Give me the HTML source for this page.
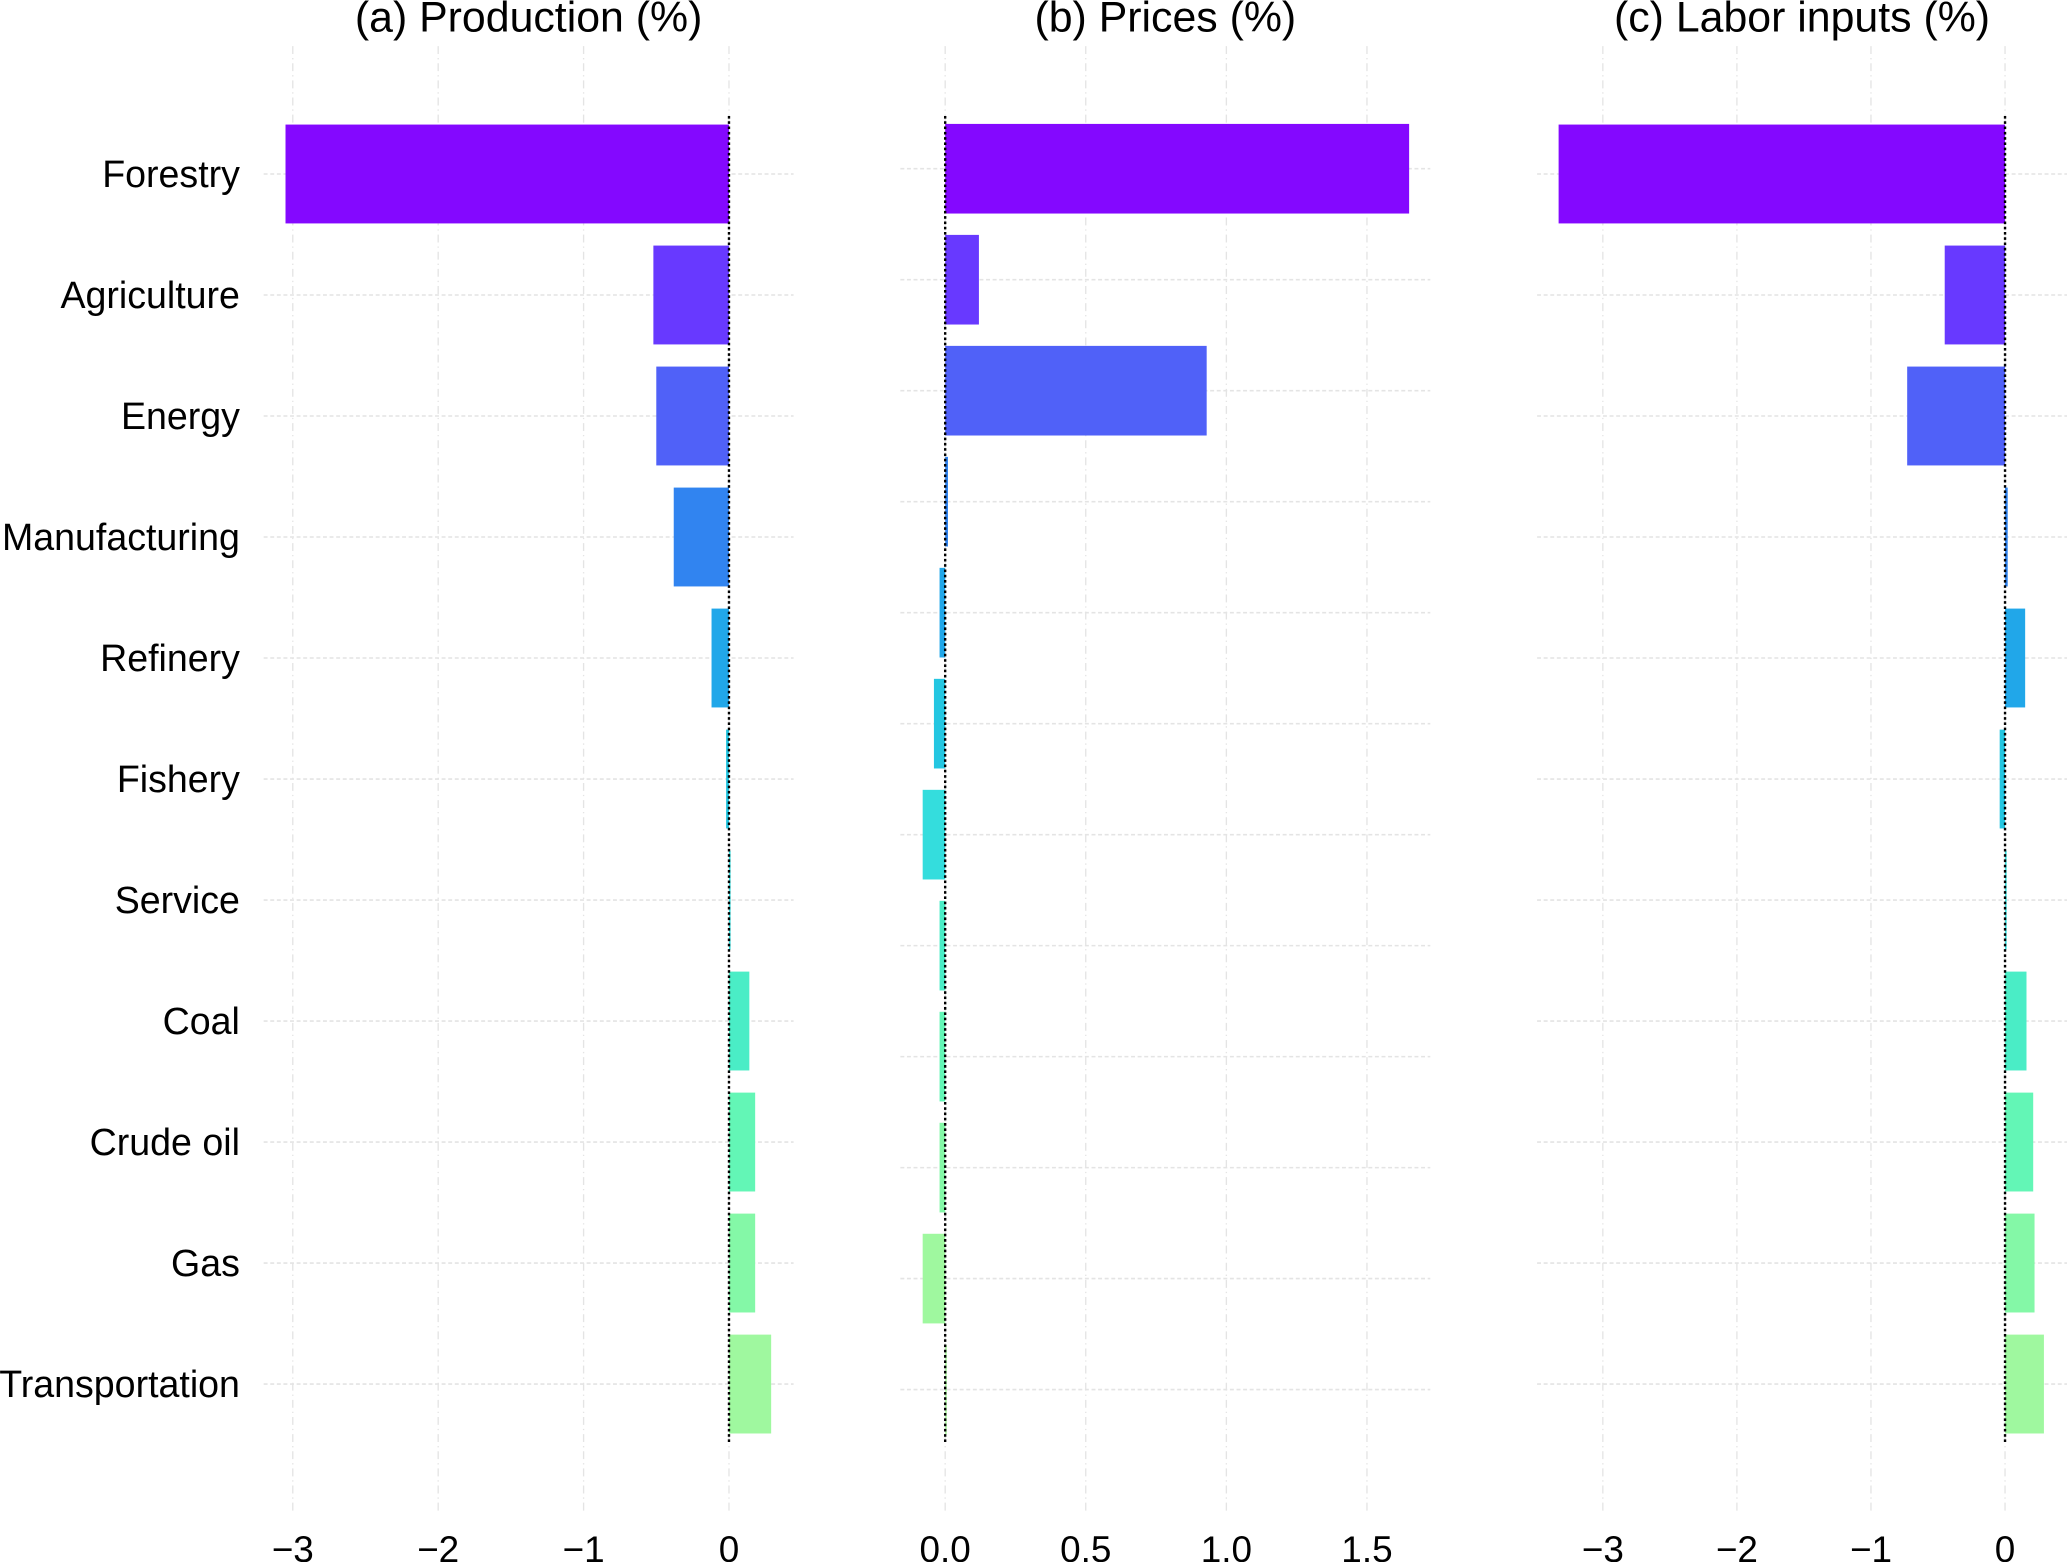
<!DOCTYPE html>
<html><head><meta charset="utf-8"><style>
html,body{margin:0;padding:0;background:#fff}
svg{display:block}
text{font-family:"Liberation Sans",sans-serif;fill:#000}
</style></head><body>
<svg id="chart" width="2067" height="1562" viewBox="0 0 1568 1185" preserveAspectRatio="none" xmlns="http://www.w3.org/2000/svg"></svg>
<script>
const categories = ["Forestry","Agriculture","Energy","Manufacturing","Refinery","Fishery","Service","Coal","Crude oil","Gas","Transportation"];
const productionValues = [-3.05,-0.52,-0.50,-0.38,-0.12,-0.02,0.01,0.14,0.18,0.18,0.29];
const pricesValues = [1.65,0.12,0.93,0.01,-0.02,-0.04,-0.08,-0.02,-0.02,-0.02,-0.08,0.003];
const laborValues = [-3.33,-0.45,-0.73,0.02,0.15,-0.04,0.005,0.16,0.21,0.22,0.29];
const ticksA = [-3,-2,-1,0];
const tickLabelsA = ["\u22123","\u22122","\u22121","0"];
const ticksB = [0,0.5,1.0,1.5];
const tickLabelsB = ["0.0","0.5","1.0","1.5"];
const ticksC = [-3,-2,-1,0];
const tickLabelsC = ["\u22123","\u22122","\u22121","0"];
const colors = ["#8000ff","#6333ff","#4a5cf8","#2a80f0","#1aa4e8","#1dc4e0","#2ddcdc","#44ecc4","#5ef6b4","#80f8a4","#9cf89c","#a6f59a"];

const svg = document.getElementById('chart');
const NS = "http://www.w3.org/2000/svg";
function mk(tag, attrs, parent){const e=document.createElementNS(NS,tag);for(const k in attrs)e.setAttribute(k,attrs[k]);(parent||svg).appendChild(e);return e;}

function panel(cfg){
  const g = mk('g',{});
  
  
  const x = v => cfg.zero + v*cfg.scale;
  const n = cfg.values.length;
  const y = i => cfg.y0 + i*cfg.step;
  cfg.ticks.forEach((t,i)=>{
    const l = mk('line',{x1:x(t),x2:x(t),y1:35,y2:1147,stroke:"#e4e4e4","stroke-width":1,"stroke-dasharray":"6,3,1,3"},g);
    
    
    const tx = mk('text',{x:x(t),y:1185,"text-anchor":"middle","font-size":28},g);
    tx.textContent = cfg.tickLabels[i];
    
    
  });
  for(let i=0;i<n;i++){
    const l = mk('line',{x1:cfg.left,x2:cfg.left+402,y1:y(i),y2:y(i),stroke:"#e4e4e4","stroke-width":1.2,"stroke-dasharray":"3,2"},g);
    
    
  }
  cfg.values.forEach((v,i)=>{
    const x0 = Math.min(x(0),x(v)), w = Math.max(Math.abs(x(v)-x(0)),1.2);
    const r = mk('rect',{x:x0,y:y(i)-cfg.barH/2,width:w,height:cfg.barH,fill:colors[i],"fill-opacity":0.97},g);
    
    
  });
  const z = mk('line',{x1:x(0),x2:x(0),y1:88,y2:1096,stroke:"#000","stroke-width":1.8,"stroke-dasharray":"2,2"},g);
  
  
  const t = mk('text',{x:cfg.left+201,y:24,"text-anchor":"middle","font-size":32.5},g);
  t.textContent = cfg.title;
  
  
  return {g,y};
}

const pa = panel({name:'production-panel',values:productionValues,labels:categories,zero:553,scale:110.3,y0:132,step:91.8,barH:75,left:200,ticks:ticksA,tickLabels:tickLabelsA,title:"(a) Production (%)"});
panel({name:'prices-panel',values:pricesValues,labels:categories.concat(["Other"]),zero:717,scale:213.3,y0:128,step:84.2,barH:68,left:683,ticks:ticksB,tickLabels:tickLabelsB,title:"(b) Prices (%)"});
panel({name:'labor-panel',values:laborValues,labels:categories,zero:1521,scale:101.7,y0:132,step:91.8,barH:75,left:1166,ticks:ticksC,tickLabels:tickLabelsC,title:"(c) Labor inputs (%)"});

categories.forEach((c,i)=>{
  const t = mk('text',{x:182,y:pa.y(i)+10,"text-anchor":"end","font-size":28.5});
  t.textContent = c;
  
  
});
</script>
</body></html>
